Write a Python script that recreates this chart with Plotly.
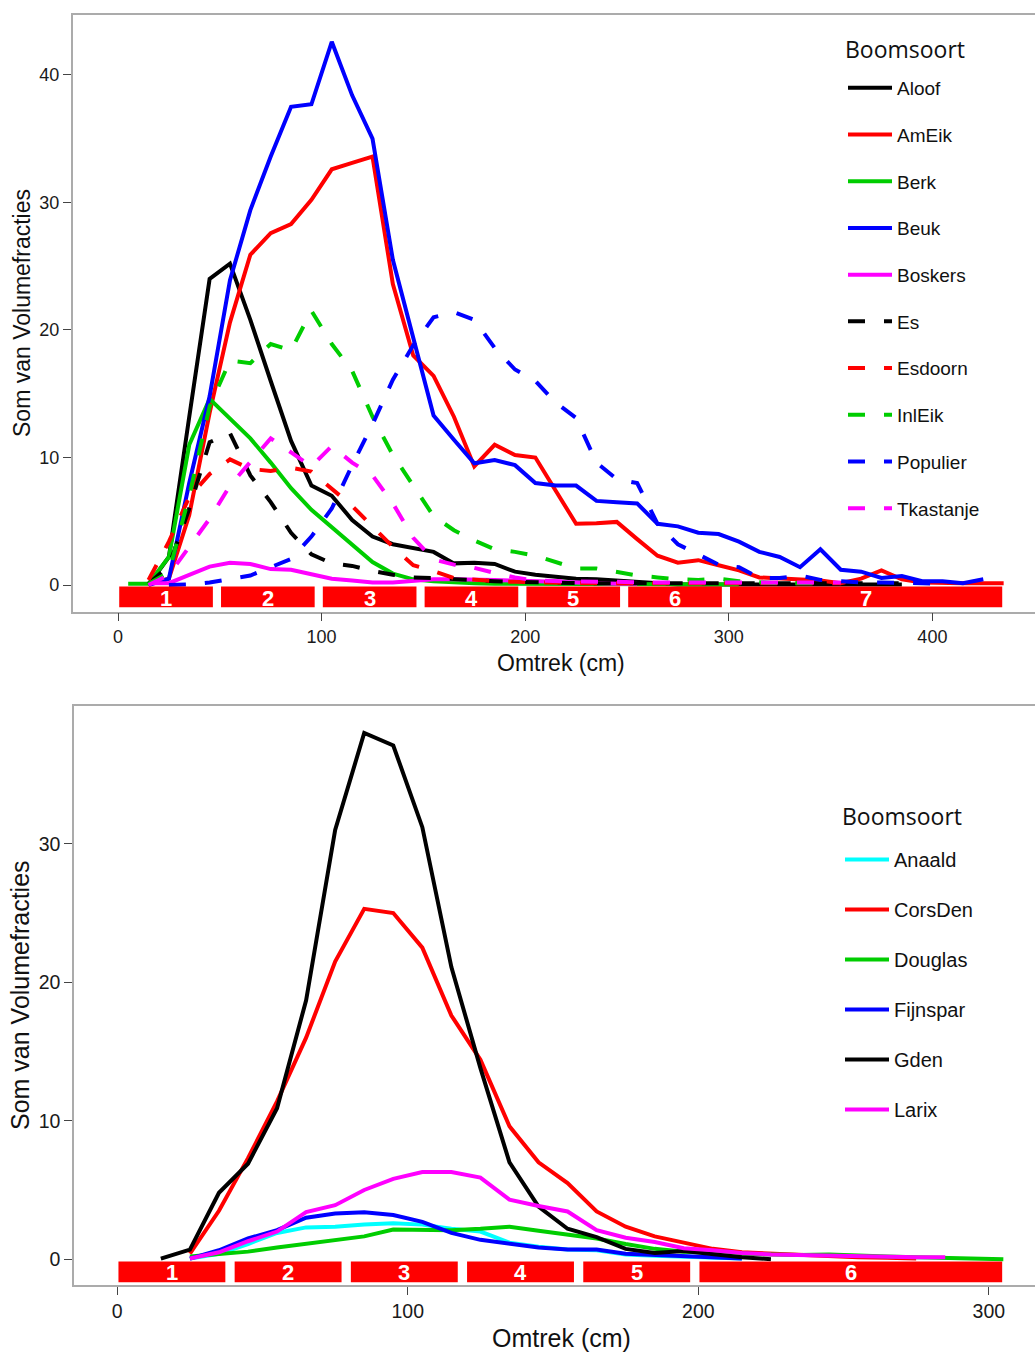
import plotly.graph_objects as go

# ---------------------------------------------------------------------------
# Data: stem circumference class midpoints (cm) and summed volume fractions
# ---------------------------------------------------------------------------
omtrek_loof = [5, 15, 25, 35, 45, 55, 65, 75, 85, 95, 105, 115, 125, 135, 145,
               155, 165, 175, 185, 195, 205, 215, 225, 235, 245, 255, 265, 275,
               285, 295, 305, 315, 325, 335, 345, 355, 365, 375, 385, 395, 405,
               415, 425, 435]

aloof = [None, 0.0, 2.2, 13.2, 24.0, 25.2, 20.8, 16.0, 11.3, 7.8, 7.0, 5.1, 3.8,
         3.2, 2.9, 2.6, 1.7, 1.75, 1.65, 1.05, 0.8, 0.65, 0.5, 0.45, 0.35, 0.3,
         0.15, 0.05, 0.05, 0.05, 0.05, 0.05, 0.05, 0.05, 0.05, 0.05, 0.05, 0.05,
         0.05, None, None, None, None, None]
ameik = [None, 0.1, 0.5, 5.5, 13.5, 20.6, 25.9, 27.6, 28.3, 30.2, 32.6, 33.1,
         33.6, 23.6, 18.0, 16.4, 13.2, 9.3, 11.0, 10.2, 10.0, 7.4, 4.8, 4.85,
         4.95, 3.6, 2.3, 1.75, 1.95, 1.55, 1.15, 0.6, 0.5, 0.45, 0.35, 0.15, 0.5,
         1.15, 0.45, 0.2, 0.15, 0.15, 0.15, 0.15]
berk = [0.1, 0.1, 2.2, 11.0, 14.6, 13.1, 11.5, 9.6, 7.6, 5.9, 4.5, 3.1, 1.8, 0.9,
        0.45, 0.3, 0.2, 0.15, 0.1, 0.1, 0.1, 0.1, 0.05, 0.05, 0.05, 0.05, 0.05,
        0.05, 0.05, 0.05, 0.05, None, None, None, None, None, None, None, None,
        None, None, None, None, None]
beuk = [None, 0.0, 0.5, 8.0, 14.8, 23.9, 29.4, 33.6, 37.5, 37.7, 42.6, 38.4,
        35.0, 25.5, 19.5, 13.3, 11.4, 9.55, 9.8, 9.4, 8.0, 7.8, 7.8, 6.6, 6.5,
        6.4, 4.8, 4.6, 4.1, 4.0, 3.4, 2.6, 2.2, 1.4, 2.8, 1.2, 1.05, 0.55, 0.7,
        0.3, 0.3, 0.15, 0.45, None]
boskers = [None, 0.15, 0.15, 0.8, 1.45, 1.75, 1.65, 1.25, 1.2, 0.85, 0.5, 0.35,
           0.2, 0.2, 0.35, 0.45, 0.45, 0.45, 0.4, 0.35, 0.3, 0.2, 0.15, 0.1,
           0.1, 0.1, None, None, None, None, None, None, None, None, None, None,
           None, None, None, None, None, None, None, None]
es = [None, 0.1, 1.5, 6.0, 11.2, 11.9, 8.6, 6.5, 4.1, 2.4, 1.7, 1.5, 1.1, 0.8,
      0.6, 0.55, 0.45, 0.35, 0.3, 0.25, 0.2, 0.15, 0.15, 0.15, 0.15, 0.15, 0.15,
      0.15, 0.15, 0.15, 0.15, 0.15, 0.15, 0.15, 0.15, 0.15, 0.15, 0.15, 0.15,
      None, None, None, None, None]
esdoorn = [None, 0.4, 3.4, 6.9, 8.7, 9.85, 9.1, 8.95, 9.2, 8.9, 7.6, 6.2, 4.6,
           3.0, 1.55, 1.1, 0.55, 0.4, 0.3, 0.25, 0.2, 0.15, 0.15, 0.15, 0.15,
           0.15, 0.15, 0.15, 0.15, 0.15, 0.15, 0.15, 0.15, 0.15, 0.15, 0.15,
           None, None, None, None, None, None, None, None]
inleik = [None, 0.1, 1.0, 7.0, 14.0, 17.6, 17.4, 18.9, 18.4, 21.5, 18.9, 16.8,
          13.2, 10.2, 7.8, 5.4, 4.3, 3.5, 2.8, 2.6, 2.3, 1.8, 1.3, 1.3, 1.0,
          0.75, 0.6, 0.45, 0.4, 0.5, 0.3, 0.2, 0.15, 0.15, 0.15, None, None,
          None, None, None, None, None, None, None]
populier = [None, None, 0.0, 0.05, 0.2, 0.45, 0.75, 1.4, 2.05, 3.8, 6.0, 9.4,
            12.6, 16.1, 18.8, 21.0, 21.4, 20.8, 18.6, 16.9, 16.0, 14.3, 13.1,
            9.6, 8.3, 8.0, 4.8, 3.2, 2.4, 1.6, 1.4, 0.55, 0.55, 0.75, 0.4, 0.3,
            0.2, 0.2, 0.2, 0.15, 0.1, None, None, None]
tkastanje = [None, 0.0, 0.8, 3.0, 5.2, 7.8, 9.6, 11.5, 10.4, 9.3, 10.9, 9.6,
             8.6, 6.4, 3.7, 2.0, 1.6, 1.35, 0.95, 0.6, 0.35, 0.3, 0.3, 0.25,
             0.25, 0.2, 0.2, 0.2, 0.2, 0.2, 0.2, 0.2, 0.2, 0.2, 0.2, 0.2, None,
             None, None, None, None, None, None, None]

omtrek_naald = [5, 15, 25, 35, 45, 55, 65, 75, 85, 95, 105, 115, 125, 135, 145,
                155, 165, 175, 185, 195, 205, 215, 225, 235, 245, 255, 265, 275,
                285, 295, 305]

anaald = [None, None, 0.05, 0.4, 1.1, 1.9, 2.3, 2.35, 2.5, 2.6, 2.5, 2.2, 2.0,
          1.2, 0.9, 0.7, 0.65, 0.35, 0.25, 0.2, 0.1, 0.05, None, None, None,
          None, None, None, None, None, None]
corsden = [None, None, 0.4, 3.5, 7.3, 11.4, 16.0, 21.5, 25.3, 25.0, 22.5, 17.6,
           14.4, 9.6, 7.0, 5.5, 3.45, 2.35, 1.65, 1.2, 0.75, 0.5, 0.4, 0.3, 0.2,
           0.15, 0.1, 0.05, None, None, None]
douglas = [None, None, 0.2, 0.35, 0.55, 0.85, 1.1, 1.4, 1.65, 2.15, 2.15, 2.1,
           2.2, 2.35, 2.05, 1.8, 1.5, 1.1, 0.75, 0.55, 0.45, 0.4, 0.35, 0.3,
           0.35, 0.25, 0.2, 0.15, 0.1, 0.05, 0.0]
fijnspar = [None, None, 0.05, 0.65, 1.5, 2.1, 3.0, 3.3, 3.4, 3.2, 2.7, 1.9, 1.4,
            1.15, 0.85, 0.7, 0.7, 0.4, 0.3, 0.25, 0.15, 0.05, None, None, None,
            None, None, None, None, None, None]
gden = [None, 0.05, 0.7, 4.8, 6.9, 10.9, 18.7, 31.0, 38.0, 37.1, 31.2, 21.1,
        13.8, 7.0, 3.8, 2.2, 1.6, 0.75, 0.45, 0.6, 0.35, 0.15, 0.0, None, None,
        None, None, None, None, None, None]
larix = [None, None, 0.05, 0.5, 1.3, 2.0, 3.4, 3.9, 5.0, 5.8, 6.3, 6.3, 5.9,
         4.3, 3.85, 3.45, 2.1, 1.55, 1.25, 0.8, 0.65, 0.45, 0.35, 0.3, 0.25,
         0.2, 0.15, 0.15, 0.15, None, None]

# Circumference class boundaries shown as numbered red blocks under each plot
klassen_loof = [0, 50, 100, 150, 200, 250, 300, 437.7]
klassen_naald = [0, 40, 80, 120, 160, 200, 307.4]

loof_namen = ["Aloof", "AmEik", "Berk", "Beuk", "Boskers",
              "Es", "Esdoorn", "InlEik", "Populier", "Tkastanje"]
loof_reeksen = [aloof, ameik, berk, beuk, boskers,
                es, esdoorn, inleik, populier, tkastanje]
loof_kleuren = ["#000000", "#FF0000", "#00CD00", "#0000FF", "#FF00FF",
                "#000000", "#FF0000", "#00CD00", "#0000FF", "#FF00FF"]
loof_stijl = ["solid"] * 5 + ["17px,19px"] * 5

naald_namen = ["Anaald", "CorsDen", "Douglas", "Fijnspar", "Gden", "Larix"]
naald_reeksen = [anaald, corsden, douglas, fijnspar, gden, larix]
naald_kleuren = ["#00FFFF", "#FF0000", "#00CD00", "#0000FF", "#000000", "#FF00FF"]

legend_titel = "Boomsoort"

W, H = 1035, 1354
ARIAL = "Arial, Liberation Sans, sans-serif"
TITLE_FONT = "Segoe UI, Open Sans, sans-serif"
LW = 4

fig = go.Figure()

for naam, vals, kleur, stijl in zip(loof_namen, loof_reeksen, loof_kleuren, loof_stijl):
    fig.add_trace(go.Scatter(
        x=omtrek_loof, y=vals, name=naam, mode="lines",
        line=dict(color=kleur, width=LW, dash=stijl),
        xaxis="x", yaxis="y", legend="legend", legendgroup=naam,
    ))

for naam, vals, kleur in zip(naald_namen, naald_reeksen, naald_kleuren):
    fig.add_trace(go.Scatter(
        x=omtrek_naald, y=vals, name=naam, mode="lines",
        line=dict(color=kleur, width=LW),
        xaxis="x2", yaxis="y2", legend="legend2", legendgroup=naam,
    ))

shapes = []
annotations = []


def klasse_blokken(grenzen, xref, yref, links, rechts, y0, y1, ylabel):
    for i in range(len(grenzen) - 1):
        a = grenzen[i] + links
        b = grenzen[i + 1] - rechts
        shapes.append(dict(type="rect", xref=xref, yref=yref, x0=a, x1=b,
                           y0=y0, y1=y1, fillcolor="#FF0000",
                           line=dict(width=0), layer="above"))
        annotations.append(dict(text="<b>%d</b>" % (i + 1), x=(a + b) / 2,
                                y=ylabel, xref=xref, yref=yref,
                                showarrow=False, xanchor="center",
                                yanchor="middle",
                                font=dict(family=ARIAL, size=22,
                                          color="white")))


klasse_blokken(klassen_loof, "x", "y", 0.6, 3.4, -1.75, -0.12, -1.05)
klasse_blokken(klassen_naald, "x2", "y2", 0.4, 2.8, -1.66, -0.17, -0.95)


def px_x(p):
    return p / W


def px_y(p):
    return 1 - p / H


# axis titles and legend headings
annotations += [
    dict(text="Som van Volumefracties", x=px_x(22), y=px_y(313),
         xref="paper", yref="paper", textangle=-90, showarrow=False,
         xanchor="center", yanchor="middle",
         font=dict(family=ARIAL, size=23, color="#111111")),
    dict(text="Omtrek (cm)", x=px_x(561), y=px_y(663), xref="paper",
         yref="paper", showarrow=False, xanchor="center", yanchor="middle",
         font=dict(family=ARIAL, size=23, color="#111111")),
    dict(text="Som van Volumefracties", x=px_x(20), y=px_y(995),
         xref="paper", yref="paper", textangle=-90, showarrow=False,
         xanchor="center", yanchor="middle",
         font=dict(family=ARIAL, size=25, color="#111111")),
    dict(text="Omtrek (cm)", x=px_x(561), y=px_y(1338), xref="paper",
         yref="paper", showarrow=False, xanchor="center", yanchor="middle",
         font=dict(family=ARIAL, size=25, color="#111111")),
    dict(text=legend_titel, x=px_x(843), y=px_y(49), xref="paper",
         yref="paper", showarrow=False, xanchor="left", yanchor="middle",
         font=dict(family=TITLE_FONT, size=23, color="#111111")),
    dict(text=legend_titel, x=px_x(840), y=px_y(816), xref="paper",
         yref="paper", showarrow=False, xanchor="left", yanchor="middle",
         font=dict(family=TITLE_FONT, size=23, color="#111111")),
]

frame = "#ABABAB"
as_x = dict(showline=True, linecolor=frame, linewidth=1.5, mirror=True,
            showgrid=False, zeroline=False, ticks="outside", ticklen=8,
            tickwidth=1, tickcolor="#444444")
as_y = dict(showline=True, linecolor=frame, linewidth=1.5, mirror=False,
            showgrid=False, zeroline=False, ticks="outside", ticklen=8,
            tickwidth=1, tickcolor="#444444")

fig.update_layout(
    width=W, height=H,
    margin=dict(l=0, r=0, t=0, b=0),
    paper_bgcolor="white", plot_bgcolor="white",
    showlegend=True,
    xaxis=dict(as_x, domain=[px_x(72.7), 1], range=[-22.25, 450.4],
               anchor="y", tickvals=[0, 100, 200, 300, 400],
               tickfont=dict(family=ARIAL, size=18, color="#1a1a1a")),
    yaxis=dict(as_y, domain=[px_y(611.7), px_y(15)], range=[-2.09, 44.7],
               anchor="x", tickvals=[0, 10, 20, 30, 40],
               tickfont=dict(family=ARIAL, size=18, color="#1a1a1a")),
    xaxis2=dict(as_x, domain=[px_x(74), 1], range=[-14.9, 315.9],
                anchor="y2", tickvals=[0, 100, 200, 300],
                tickfont=dict(family=ARIAL, size=19.5, color="#1a1a1a")),
    yaxis2=dict(as_y, domain=[px_y(1285), px_y(706)], range=[-1.86, 39.95],
                anchor="x2", tickvals=[0, 10, 20, 30],
                tickfont=dict(family=ARIAL, size=19.5, color="#1a1a1a")),
    legend=dict(
        x=px_x(843), y=px_y(69), xanchor="left", yanchor="top",
        bgcolor="rgba(0,0,0,0)", borderwidth=0,
        font=dict(family=ARIAL, size=19, color="#111111"),
        itemwidth=44, tracegroupgap=19, traceorder="grouped",
    ),
    legend2=dict(
        x=px_x(840), y=px_y(840), xanchor="left", yanchor="top",
        bgcolor="rgba(0,0,0,0)", borderwidth=0,
        font=dict(family=ARIAL, size=20, color="#111111"),
        itemwidth=44, tracegroupgap=21, traceorder="grouped",
    ),
    shapes=shapes,
    annotations=annotations,
)

fig.write_html("out.html")
